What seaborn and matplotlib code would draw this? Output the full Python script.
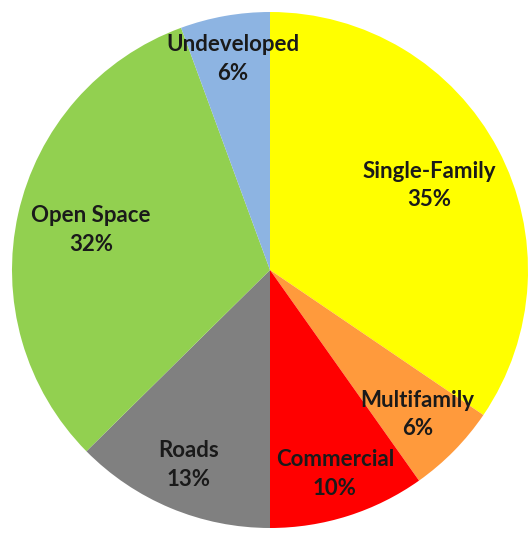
import matplotlib
matplotlib.use("Agg")
import matplotlib.pyplot as plt
import seaborn as sns
import numpy as np

categories = ["Single-Family", "Multifamily", "Commercial", "Roads", "Open Space", "Undeveloped"]
values = [34.5, 5.7, 9.8, 12.6, 31.8, 5.6]
colors = ["#FFFF00", "#FF9A3C", "#FF0000", "#808080", "#92D050", "#8DB4E2"]

# label radial placement (style)
label_radius = [0.70, 0.80, 0.83, 0.82, 0.71, 0.83]

sns.set_theme(style="white")
plt.rcParams['font.family'] = ['Lato', 'DejaVu Sans']

fig = plt.figure(figsize=(5.31, 5.33), dpi=100)
W, H = 531, 533
cx, cy, r = 270, 270, 258
ax = fig.add_axes([(cx - r) / W, (H - cy - r) / H, 2 * r / W, 2 * r / H])
ax.axis("off")

wedges, _ = ax.pie(values, colors=colors, startangle=90, counterclock=False,
                   radius=1, wedgeprops=dict(linewidth=0), frame=False)
ax.set_xlim(-1, 1)
ax.set_ylim(-1, 1)

total = sum(values)
for w, cat, v, lr in zip(wedges, categories, values, label_radius):
    ang = np.deg2rad((w.theta1 + w.theta2) / 2)
    x, y = lr * np.cos(ang), lr * np.sin(ang)
    pct = int(np.floor(v / total * 100 + 0.5))
    ax.text(x, y, f"{cat}\n{pct}%", ha="center", va="center",
            fontsize=16, fontweight="bold", color="#1a1a1a", linespacing=1.45)

fig.savefig("out.png", dpi=100)
